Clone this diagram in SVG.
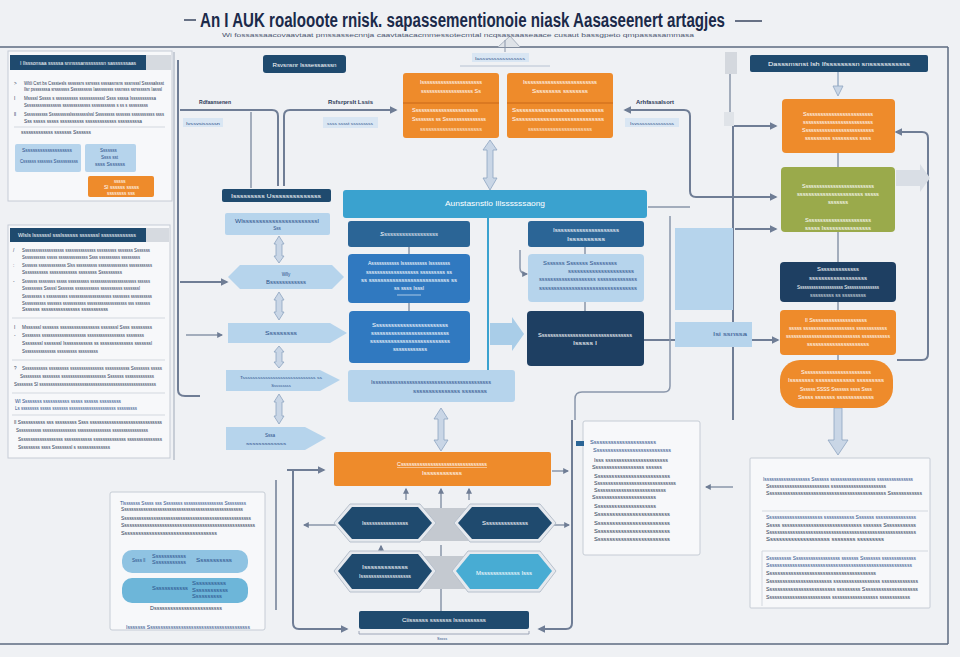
<svg xmlns="http://www.w3.org/2000/svg" width="960" height="657" viewBox="0 0 960 657">
<style>
text{font-family:"Liberation Sans",Arial,sans-serif}
.w{fill:#ffffff}
.d{fill:#2b3856}
.b{fill:#2a4f8a}
.s{font-size:4.6px}
.m{font-size:5.6px}
.panel{fill:#f7f8fa;stroke:#c6ccd5;stroke-width:1}
.navy{fill:#1f4a6e}
.dblue{fill:#2b6596}
.blue{fill:#3079c0}
.lblue{fill:#b6d4ec}
.teal{fill:#3aa2cf}
.orange{fill:#ee8b2b}
.olive{fill:#9aaa4b}
.dnavy{fill:#1e3f62}
.cyan{fill:#48acd3}
.c{fill:none;stroke:#6f7d95;stroke-width:2}
.c1{fill:none;stroke:#8a96aa;stroke-width:1.5}
.sep{stroke:#d3d8df;stroke-width:1}
.fat{fill:#c9d6e6;stroke:#8ea4c0;stroke-width:0.8}
</style>
<defs>
<marker id="ah" viewBox="0 0 10 10" refX="8" refY="5" markerWidth="4" markerHeight="4" orient="auto-start-reverse">
<path d="M0,0 L10,5 L0,10 z" fill="#6f7d95"/>
</marker>
</defs>
<rect width="960" height="657" fill="#eff1f4"/>

<!-- frame -->
<g id="frame">
<line x1="0" y1="47" x2="948" y2="47" stroke="#5d6a80" stroke-width="1.5"/>
<line x1="948" y1="47" x2="948" y2="644" stroke="#5d6a80" stroke-width="1.5"/>
<line x1="0" y1="644" x2="948" y2="644" stroke="#5d6a80" stroke-width="1.5"/>
<line x1="184" y1="20" x2="196" y2="20" stroke="#3a4660" stroke-width="1.5"/>
<line x1="735" y1="21" x2="762" y2="21" stroke="#3a4660" stroke-width="1.5"/>
<path d="M498,47 L510,36 L520,47" fill="#dfe3e8" stroke="#aab3c0" stroke-width="1"/>
</g>

<g id="title">
<text x="200" y="27" font-size="20" font-weight="bold" fill="#1b2a4a" textLength="525" lengthAdjust="spacingAndGlyphs">An I AUK roalooote rnisk. sapassementionoie niask Aasaseenert artagjes</text>
<text x="222" y="37" font-size="6" fill="#4a5570" textLength="472" lengthAdjust="spacingAndGlyphs">Wi fossassaacovaavtaat pmssassecnnja caavtatacacmmessotecmtal ncqsassaaseaace cusaut bassgpeto qmpassasammasa</text>
</g>

<!-- connectors -->
<g id="connectors">
<path class="c" d="M178,60 V390 Q178,396 185,396 H200"/>
<path class="c" d="M180,110 H272 Q278,110 278,116 V186"/>
<path class="c" d="M284,186 V116 Q284,110 290,110 H396" marker-end="url(#ah)"/>
<path class="c1" d="M251,112 V188"/>
<path class="c" d="M180,282 H227" marker-end="url(#ah)"/>
<path class="c1" d="M186,335 H222" marker-end="url(#ah)"/>
<path class="c" d="M625,110 H684 Q690,110 690,116 V191 Q690,197 696,197 H776" marker-start="url(#ah)" marker-end="url(#ah)"/>
<path class="c1" d="M648,207 H690"/>
<path class="c" d="M733,120 V420"/>
<path class="c" d="M733,126 H776" marker-end="url(#ah)"/>
<path class="c" d="M735,229 H776" marker-end="url(#ah)"/>
<path class="c1" d="M730,60 V118" marker-end="url(#ah)"/>
<path class="c" d="M896,132 H922 Q928,132 928,138 V354 Q928,360 922,360 H897" marker-start="url(#ah)"/>
<path class="c1" d="M838,153 V167"/>
<path class="c1" d="M838,232 V262"/>
<path class="c1" d="M838,302 V310"/>
<path class="c1" d="M838,355 V360"/>
<path class="c" d="M644,340 H675"/>
<path class="c" d="M752,340 H778" marker-end="url(#ah)"/>
<path class="c1" d="M575,420 V399 Q575,392 582,392 H664 Q670,392 670,386 V216"/>
<path class="c1" d="M409,247 V254"/>
<path class="c1" d="M409,303 V311"/>
<path class="c1" d="M585,247 V254"/>
<path class="c1" d="M585,302 V311"/>
<line x1="488" y1="218" x2="488" y2="384" stroke="#3aa2cf" stroke-width="2"/>
<path class="c1" d="M520,250 V268 Q520,274 527,274" marker-end="url(#ah)"/>
<path class="c" d="M287,470 H324" marker-end="url(#ah)"/>
<path class="c" d="M293,470 V623 Q293,629 299,629 H347" marker-end="url(#ah)"/>
<path class="c1" d="M552,471 H568" marker-end="url(#ah)"/>
<path class="c" d="M572,420 V623 Q572,629 566,629 H539" marker-end="url(#ah)"/>
<path class="c1" d="M406,500 V489" marker-end="url(#ah)"/>
<path class="c1" d="M441,522 V489" marker-end="url(#ah)"/>
<path class="c1" d="M469,500 V489" marker-end="url(#ah)"/>
<path class="c1" d="M336,525 H304" marker-end="url(#ah)"/>
<path class="c1" d="M553,525 H569" marker-end="url(#ah)"/>
<path class="c1" d="M381,552 V546" marker-end="url(#ah)"/>
<path class="c1" d="M441,545 V558"/>
<path class="c1" d="M441,611 V582" marker-end="url(#ah)"/>
<path class="c1" d="M733,487 H706" stroke="#b9c1cc" stroke-width="4" marker-end="url(#ah)"/>
<line x1="276" y1="480" x2="276" y2="610" stroke="#6f7d95" stroke-width="1.5"/>
<line x1="174" y1="52" x2="174" y2="460" stroke="#c7cdd6" stroke-width="2"/>
<line x1="460" y1="66" x2="550" y2="66" stroke="#b7c2d2" stroke-width="1"/>
<path d="M505,40 V52" stroke="#8a96aa" stroke-width="1"/>
<!-- fat double arrows -->
<path class="fat" d="M490,140 L497,150 H493 V178 H497 L490,190 L483,178 H487 V150 H483 z"/>
<path class="fat" d="M441,408 L448,419 H444 V440 H448 L441,451 L434,440 H438 V419 H434 z"/>
<path class="fat" d="M838,72 L838,72 V86 H843 L838,96 L833,86 H838 z"/>
<path class="fat" d="M834,408 H842 V440 H848 L838,455 L828,440 H834 z"/>
<path class="fat" d="M279,236 L284,244 H282 V256 H284 L279,263 L274,256 H276 V244 H274 z"/>
<path class="fat" d="M279,292 L284,300 H282 V312 H284 L279,320 L274,312 H276 V300 H274 z"/>
<path class="fat" d="M279,346 L284,352 H282 V362 H284 L279,368 L274,362 H276 V352 H274 z"/>
<path class="fat" d="M279,394 L284,402 H282 V416 H284 L279,424 L274,416 H276 V402 H274 z"/>
<path d="M490,323 H512 V317 L524,334 L512,351 V345 H490 z" fill="#a9cde8"/>
<path d="M896,170 H920 V164 L930,178 L920,192 V186 H896 z" fill="#d9dee5"/>
</g>

<!-- left panel 1 -->
<g id="left-panel-1">
<rect class="panel" x="8" y="51" width="164" height="150"/>
<rect class="navy" x="10" y="55" width="136" height="15"/>
<rect x="146" y="55" width="25" height="15" fill="#d6dae0"/>
<text class="w" x="20" y="64.5" font-size="5" textLength="116" lengthAdjust="spacingAndGlyphs">I Ilsssonsaa sssssa snnsssansssssssn sassssssaas</text>
<g class="d s">
<text x="14" y="85">&gt;</text>
<text x="24" y="85" textLength="140" lengthAdjust="spacingAndGlyphs">Wltli Csrt bs Cssstesls ssssssrs ssrssss ssssasnsns sssnsssl Sssssalssst</text>
<text x="24" y="91" textLength="138" lengthAdjust="spacingAndGlyphs">Ilsr psssssssa srsssssss Ssssssssss Iassssssss sssnsss ssrsssssrs Iasssl</text>
<text x="14" y="100">I</text>
<text x="24" y="100" textLength="132" lengthAdjust="spacingAndGlyphs">Mssssl Sssss s ssssssssss sssssssssssl Ssss ssssa Issssssssssa</text>
<text x="24" y="107" textLength="124" lengthAdjust="spacingAndGlyphs">Sssssssssssssssss sssssssssssss sssssssssss s ss s sssssssss</text>
<text x="14" y="116">ll</text>
<text x="24" y="116" textLength="140" lengthAdjust="spacingAndGlyphs">Sssssssssss Sssssssssslsssssssslssl Sssssssss sssssss sssssssssss ssss</text>
<text x="24" y="123" textLength="118" lengthAdjust="spacingAndGlyphs">Sss sssss sssss ssssssssss sssssssssssss sssssssssa</text>
<text x="21" y="134" textLength="70" lengthAdjust="spacingAndGlyphs">sssssssssssss sssssss Sssssss</text>
</g>
<line class="sep" x1="14" y1="127" x2="165" y2="127"/>
<rect class="lblue" x="15" y="144" width="66" height="28" rx="2"/>
<text class="b s" x="22" y="152" textLength="50" lengthAdjust="spacingAndGlyphs">Ssssssssssssssssssss</text>
<text class="b s" x="20" y="163" textLength="58" lengthAdjust="spacingAndGlyphs">Cssssss sssssss Sssssssssss</text>
<rect class="lblue" x="85" y="144" width="51" height="28" rx="2"/>
<text class="b s" x="100" y="152">Sssssss</text>
<text class="b s" x="101" y="159">Ssss sst</text>
<text class="b s" x="95" y="166" textLength="30" lengthAdjust="spacingAndGlyphs">ssss Sssssss</text>
<rect class="orange" x="88" y="176" width="66" height="21" rx="2"/>
<text class="w s" x="114" y="183">sssss</text>
<text class="w s" x="104" y="189" textLength="35" lengthAdjust="spacingAndGlyphs">Sl ssssss sssss</text>
<text class="w s" x="107" y="195" textLength="28" lengthAdjust="spacingAndGlyphs">ssssssss sss</text>
</g>

<!-- left panel 2 -->
<g id="left-panel-2">
<rect class="panel" x="8" y="225" width="162" height="233"/>
<rect class="navy" x="10" y="228" width="136" height="14"/>
<rect x="146" y="228" width="23" height="14" fill="#d6dae0"/>
<text class="w" x="18" y="237" font-size="5" textLength="118" lengthAdjust="spacingAndGlyphs">Wlsls lssssssl ssslssssss sssssssl sssssssssssss</text>
<g class="d s">
<text x="13" y="252">/</text>
<text x="22" y="252" textLength="128" lengthAdjust="spacingAndGlyphs">Sssssssssssssssssss ssssssssssssss sssssssss sssssss Sssssss</text>
<text x="22" y="259" textLength="118" lengthAdjust="spacingAndGlyphs">Sssssssssss sssss ssssssssssssss Ssss ssssssssss sssssssss</text>
<text x="13" y="267">:</text>
<text x="22" y="267" textLength="130" lengthAdjust="spacingAndGlyphs">Sssssss sssssssssssss Slss ssssssssss ssssssssssssss sssssssssss</text>
<text x="22" y="274" textLength="100" lengthAdjust="spacingAndGlyphs">Sssssssssss ssssssssssss ssssssss Ssssssssss</text>
<text x="13" y="283">-</text>
<text x="22" y="283" textLength="128" lengthAdjust="spacingAndGlyphs">Sssssss ssssssss sssss ssssssssss ssssssssssssssssssssss ssssss</text>
<text x="22" y="290" textLength="118" lengthAdjust="spacingAndGlyphs">Sssssssss Sssssl Sssssss sssssssssss ssssssssss sssssssl</text>
<text x="22" y="298" textLength="130" lengthAdjust="spacingAndGlyphs">Sssssssss s ssssssssss ssssssssssssssssssss ssssssss ssssssssss</text>
<text x="22" y="305" textLength="128" lengthAdjust="spacingAndGlyphs">Sssssssssss sssssss sssssssssss sssssssssssssssssss sss sssssss</text>
<text x="22" y="311" textLength="86" lengthAdjust="spacingAndGlyphs">Sssssss ssssssssssssssss sssssssssss</text>
</g>
<line class="sep" x1="12" y1="318" x2="165" y2="318"/>
<g class="d s">
<text x="14" y="329">I</text>
<text x="22" y="329" textLength="130" lengthAdjust="spacingAndGlyphs">Mssssssl sssssss sssssssssssssssss sssssssl Ssss sssssssss</text>
<text x="14" y="337">-</text>
<text x="22" y="337" textLength="122" lengthAdjust="spacingAndGlyphs">Ssssssss ssssssssssssssssssss sssssssssssssssss ssssssss</text>
<text x="22" y="345" textLength="130" lengthAdjust="spacingAndGlyphs">Ssssssssl sssssssl Issssssssssss ss ssssssssssssss sssssssl</text>
<text x="22" y="353" textLength="76" lengthAdjust="spacingAndGlyphs">Sssssssssssssss sssssssss sssssssss</text>
</g>
<line class="sep" x1="12" y1="360" x2="165" y2="360"/>
<g class="d s">
<text x="14" y="370">?</text>
<text x="22" y="370" textLength="140" lengthAdjust="spacingAndGlyphs">Sssssssssss sssssssss sssssssssssssss sssssssssss Ssssssss sssss</text>
<text x="20" y="378" textLength="134" lengthAdjust="spacingAndGlyphs">Sssssssss ssssssss ssssssssssssssssssss Sssssss sssssssssssss</text>
<text x="14" y="386" textLength="142" lengthAdjust="spacingAndGlyphs">Ssssssss Sl ssssssssssssssssssssssssssssssssssssssssssssssssssss</text>
</g>
<line class="sep" x1="12" y1="393" x2="165" y2="393"/>
<g class="b s">
<text x="15" y="403" textLength="106" lengthAdjust="spacingAndGlyphs">Wl Ssssssss sssssssssss sssss ssssss sssssssss</text>
<text x="15" y="410" textLength="122" lengthAdjust="spacingAndGlyphs">Ls ssssssss sssss sssssss sssssssssssssssssssss sssssssss</text>
</g>
<line class="sep" x1="12" y1="415" x2="165" y2="415"/>
<g class="d s">
<text x="14" y="424" textLength="148" lengthAdjust="spacingAndGlyphs">Il Sssssssssss sss sssssssss Ssss ssssssssssssssssssssssssssssss</text>
<text x="16" y="432" textLength="132" lengthAdjust="spacingAndGlyphs">Sssssssssss sssssssssssssss sssssssssssssss ssssssssssssssss</text>
<text x="18" y="441" textLength="144" lengthAdjust="spacingAndGlyphs">Sssssssssssssssssss ssssssssssss ssssssssssssss sssssssssssssss</text>
<text x="18" y="449" textLength="92" lengthAdjust="spacingAndGlyphs">Sssssssss ssss Ssssssssl s ssssssssssssss</text>
</g>
</g>

<!-- top row -->
<g id="top-navy">
<rect class="navy" x="263" y="55" width="83" height="18" rx="3"/>
<text class="w" x="304.5" y="66.5" font-size="5.5" text-anchor="middle" textLength="64" lengthAdjust="spacingAndGlyphs">Rsvsnsnr Isssessasssn</text>
</g>
<g id="label-left">
<text class="d" x="199" y="104" font-size="5.8" font-weight="bold" textLength="32" lengthAdjust="spacingAndGlyphs">Rdfaansenen</text>
<rect x="183" y="118" width="40" height="9" fill="#d9e6f3"/>
<text class="b" x="186" y="124.5" font-size="4.4" textLength="34" lengthAdjust="spacingAndGlyphs">Ivssvsisssssn</text>
</g>
<g id="label-mid">
<text class="d" x="328" y="104" font-size="5.8" font-weight="bold" textLength="45" lengthAdjust="spacingAndGlyphs">Rsfsrprslt Lssis</text>
<rect x="323" y="117" width="55" height="11" fill="#d9e6f3"/>
<text class="b" x="327" y="124.5" font-size="4.4" textLength="46" lengthAdjust="spacingAndGlyphs">ssss sssst sssssssss</text>
</g>
<g id="label-top">
<rect x="472" y="53" width="57" height="9" fill="#d9e6f3"/>
<text class="b" x="475" y="59.5" font-size="4.4" textLength="50" lengthAdjust="spacingAndGlyphs">Iassvsssssssssssss</text>
</g>
<g id="orange-1">
<rect class="orange" x="403" y="73" width="96" height="65" rx="3"/>
<line x1="403" y1="103" x2="499" y2="103" stroke="#d4731f" stroke-width="1.5"/>
<g class="w s">
<text x="451" y="84" text-anchor="middle" textLength="62" lengthAdjust="spacingAndGlyphs">Issssssssssssssssssssss</text>
<text x="451" y="93" text-anchor="middle" textLength="60" lengthAdjust="spacingAndGlyphs">sssssssssssssssssss Ss</text>
<text x="412" y="112" textLength="66" lengthAdjust="spacingAndGlyphs">Sssssssssssssssssssssss</text>
<text x="412" y="121" textLength="74" lengthAdjust="spacingAndGlyphs">Ssssssss ss Ssssssssssssssss</text>
<text x="451" y="131" text-anchor="middle" textLength="62" lengthAdjust="spacingAndGlyphs" opacity="0.8">ssssssssssssssssssssss</text>
</g>
</g>
<g id="orange-2">
<rect class="orange" x="507" y="73" width="106" height="65" rx="3"/>
<line x1="507" y1="103" x2="613" y2="103" stroke="#d4731f" stroke-width="1.5"/>
<g class="w s">
<text x="560" y="84" text-anchor="middle" textLength="74" lengthAdjust="spacingAndGlyphs">Isssssssssssssssssssssssss</text>
<text x="560" y="93" text-anchor="middle" textLength="56" lengthAdjust="spacingAndGlyphs">Sssssssss ssssssss</text>
<text x="512" y="112" textLength="92" lengthAdjust="spacingAndGlyphs">Sssssssssssssssssssssssssssss</text>
<text x="512" y="121" textLength="92" lengthAdjust="spacingAndGlyphs">Ssssssssssssssssssssssssssssss</text>
<text x="560" y="131" text-anchor="middle" textLength="64" lengthAdjust="spacingAndGlyphs" opacity="0.8">sssssssssssssssssssssss</text>
</g>
</g>
<g id="label-right">
<text class="d" x="636" y="104" font-size="5.8" font-weight="bold" textLength="38" lengthAdjust="spacingAndGlyphs">Arhfassalsort</text>
<rect x="625" y="118" width="54" height="9" fill="#d9e6f3"/>
<text class="b" x="630" y="124.5" font-size="4.4" textLength="44" lengthAdjust="spacingAndGlyphs">Isvssssssssssssss</text>
</g>

<!-- right column -->
<g id="right-gray">
<rect x="725" y="52" width="12" height="22" fill="#d4d8de"/>
<rect x="724" y="112" width="10" height="14" fill="#dfe3e8"/>
</g>
<g id="right-navy-header">
<rect class="navy" x="750" y="55" width="178" height="17" rx="2"/>
<text class="w" x="839" y="66" font-size="5.8" text-anchor="middle" textLength="142" lengthAdjust="spacingAndGlyphs">Dasssmsnst lsh Ifssssssssn snsssssssssss</text>
</g>
<g id="right-orange-1">
<rect class="orange" x="782" y="99" width="113" height="54" rx="4"/>
<g class="w s" text-anchor="middle">
<text x="838" y="116" textLength="70" lengthAdjust="spacingAndGlyphs">Sssssssssssssssssssssssss</text>
<text x="838" y="124" textLength="70" lengthAdjust="spacingAndGlyphs">ssssssssssssssssssssssssss</text>
<text x="838" y="132" textLength="72" lengthAdjust="spacingAndGlyphs">Ssssssssssssssssssssssssss</text>
<text x="838" y="140" textLength="66" lengthAdjust="spacingAndGlyphs">sssssssss sssssssss ssss</text>
</g>
</g>
<g id="right-olive">
<rect class="olive" x="781" y="167" width="114" height="65" rx="4"/>
<g class="w s" text-anchor="middle">
<text x="838" y="188" textLength="72" lengthAdjust="spacingAndGlyphs">Ssssssssssssssssssssssssss</text>
<text x="838" y="196" textLength="82" lengthAdjust="spacingAndGlyphs">sssssssssssssssssssssss sssss</text>
<text x="838" y="204" textLength="20" lengthAdjust="spacingAndGlyphs">sssssss</text>
<text x="838" y="222" textLength="66" lengthAdjust="spacingAndGlyphs">Sssssssssssssssssssssss</text>
<text x="838" y="230" textLength="66" lengthAdjust="spacingAndGlyphs">sssss Issssssssssssssss</text>
<text x="838" y="238" textLength="30" lengthAdjust="spacingAndGlyphs" opacity="0">.</text>
</g>
</g>
<g id="right-navy">
<rect class="dnavy" x="780" y="262" width="116" height="40" rx="4"/>
<g class="w s" text-anchor="middle">
<text x="838" y="271" textLength="42" lengthAdjust="spacingAndGlyphs">Ssssssssssssss</text>
<text x="838" y="280" textLength="58" lengthAdjust="spacingAndGlyphs">sssssssssssssssssss</text>
<text x="838" y="289" textLength="82" lengthAdjust="spacingAndGlyphs">Ssssssssssssssssssss Sssssssssssssss</text>
<text x="838" y="297" textLength="56" lengthAdjust="spacingAndGlyphs" opacity="0.8">sssssssss ss sssssssss</text>
</g>
</g>
<g id="right-orange-2">
<rect class="orange" x="780" y="310" width="116" height="45" rx="4"/>
<g class="w s" text-anchor="middle">
<text x="836" y="322" textLength="62" lengthAdjust="spacingAndGlyphs">Il Sssssssssssssssssssss</text>
<text x="838" y="330" textLength="98" lengthAdjust="spacingAndGlyphs">sssss ssssssssssssssssssss ssssssssssss</text>
<text x="838" y="338" textLength="104" lengthAdjust="spacingAndGlyphs">sssssssssssssssssssssssssssss sssssssssss</text>
<text x="838" y="346" textLength="62" lengthAdjust="spacingAndGlyphs">ssssssssssssssssssssss</text>
</g>
</g>
<g id="right-orange-pill">
<rect class="orange" x="780" y="360" width="113" height="48" rx="20"/>
<g class="w s" text-anchor="middle">
<text x="836" y="374" textLength="70" lengthAdjust="spacingAndGlyphs">Sssssssssssssssssssssssss</text>
<text x="836" y="382" textLength="96" lengthAdjust="spacingAndGlyphs">Issssssss sssssssssssss sssssssss</text>
<text x="836" y="391" textLength="72" lengthAdjust="spacingAndGlyphs">Ssssss SSSS Sssssss ssss Ssss</text>
<text x="836" y="399" textLength="76" lengthAdjust="spacingAndGlyphs">Sssss sssssss sssssssssssss</text>
</g>
</g>
<g id="right-lightblue">
<rect class="lblue" x="675" y="228" width="58" height="82"/>
</g>
<g id="right-isi">
<rect class="lblue" x="675" y="322" width="77" height="25"/>
<text class="b" x="713" y="336" font-size="5" textLength="34" lengthAdjust="spacingAndGlyphs">Isi ssnssa</text>
</g>

<!-- center -->
<g id="center-header">
<rect class="teal" x="343" y="190" width="304" height="28" rx="3"/>
<text class="w" x="495" y="206" font-size="8" text-anchor="middle" textLength="100" lengthAdjust="spacingAndGlyphs">Aunstasnstlo Illssssssaong</text>
</g>
<g id="center-l1">
<rect class="dblue" x="348" y="221" width="122" height="26" rx="3"/>
<text class="w" x="409" y="236" font-size="5.5" font-style="italic" text-anchor="middle" textLength="58" lengthAdjust="spacingAndGlyphs">Sssssssssssssssssss</text>
</g>
<g id="center-l2">
<rect class="blue" x="348" y="254" width="122" height="49" rx="4"/>
<g class="w s" text-anchor="middle">
<text x="409" y="265" textLength="82" lengthAdjust="spacingAndGlyphs">Asssssssssss Issssssssss Issssssss</text>
<text x="409" y="274" textLength="86" lengthAdjust="spacingAndGlyphs">sssssssssssssssssss sssssssss ss</text>
<text x="409" y="282" textLength="96" lengthAdjust="spacingAndGlyphs">ss sssssssssssssssssssssssssss ss</text>
<text x="409" y="290" textLength="30" lengthAdjust="spacingAndGlyphs">ss ssss Isssl</text>
</g>
<line x1="397" y1="295" x2="421" y2="295" stroke="#ffffff" stroke-width="0.6"/>
</g>
<g id="center-l3">
<rect class="blue" x="349" y="311" width="121" height="52" rx="4"/>
<g class="w s" text-anchor="middle">
<text x="410" y="327" textLength="76" lengthAdjust="spacingAndGlyphs">Sssssssssssssssssssssssss</text>
<text x="410" y="335" textLength="78" lengthAdjust="spacingAndGlyphs">sssssssssssssssssssssssssss</text>
<text x="410" y="343" textLength="80" lengthAdjust="spacingAndGlyphs">sssssssssssssssssssssssssss</text>
<text x="410" y="351" textLength="34" lengthAdjust="spacingAndGlyphs">ssssssssssss</text>
</g>
</g>
<g id="center-l4">
<rect class="lblue" x="348" y="370" width="167" height="32" rx="3"/>
<g class="b s" text-anchor="middle">
<text x="431" y="384" textLength="120" lengthAdjust="spacingAndGlyphs">Issssssssssssssssssssssssssssssssssssssssss</text>
<text x="450" y="393" textLength="74" lengthAdjust="spacingAndGlyphs">sssssssssssssss ssssssss</text>
</g>
</g>
<g id="center-r1">
<rect class="dblue" x="528" y="221" width="116" height="26" rx="3"/>
<g class="w s" text-anchor="middle">
<text x="586" y="232" textLength="66" lengthAdjust="spacingAndGlyphs">Isssssssssssssssssssss</text>
<text x="586" y="241" textLength="38" lengthAdjust="spacingAndGlyphs">Issssssssss</text>
</g>
</g>
<g id="center-r2">
<rect class="lblue" x="528" y="254" width="116" height="48" rx="4"/>
<g class="b s">
<text x="543" y="265" textLength="74" lengthAdjust="spacingAndGlyphs">Sssssss Sssssss Sssssssss</text>
<text x="568" y="273" textLength="66" lengthAdjust="spacingAndGlyphs">ssssssssssssssssssssss</text>
<text x="539" y="281" textLength="98" lengthAdjust="spacingAndGlyphs">ssssssssssssssssssss ssssssssssssss</text>
<text x="539" y="290" textLength="98" lengthAdjust="spacingAndGlyphs">sssssssssssssssssssssssssssssssss</text>
</g>
</g>
<g id="center-r3">
<rect class="dnavy" x="527" y="311" width="117" height="55" rx="4"/>
<g class="w s" text-anchor="middle">
<text x="585" y="337" textLength="94" lengthAdjust="spacingAndGlyphs">Sssssssssssssssssssssssssssssssss</text>
<text x="585" y="345" textLength="24" lengthAdjust="spacingAndGlyphs">Isssss I</text>
</g>
</g>

<!-- left flow column -->
<g id="left-navy">
<rect class="navy" x="222" y="189" width="109" height="13" rx="2"/>
<text class="w" x="276" y="197.5" font-size="4.8" text-anchor="middle" textLength="90" lengthAdjust="spacingAndGlyphs">Isssssssss Ussssssssssssss</text>
</g>
<g id="left-lb">
<rect class="lblue" x="225" y="213" width="105" height="22" rx="2"/>
<text class="b s" x="277" y="223" text-anchor="middle" textLength="84" lengthAdjust="spacingAndGlyphs">Wlsssssssssssssssssssssssl</text>
<text class="b s" x="277" y="230" text-anchor="middle">Sss</text>
</g>
<g id="left-hex">
<path class="lblue" d="M228,277 L240,265 H332 L344,277 L332,289 H240 z"/>
<text class="b s" x="286" y="276" text-anchor="middle">Wlly</text>
<text class="b s" x="286" y="284" text-anchor="middle" textLength="40" lengthAdjust="spacingAndGlyphs">Bssssssssssss</text>
</g>
<g id="left-arrow-1">
<path class="lblue" d="M228,323 H330 L347,333 L330,343 H228 z"/>
<text class="b s" x="281" y="335" text-anchor="middle" textLength="32" lengthAdjust="spacingAndGlyphs">Sssssssss</text>
</g>
<g id="left-arrow-2">
<path class="lblue" d="M226,370 H320 L340,380 L320,391 H226 z"/>
<text class="b" x="281" y="379" font-size="4.2" text-anchor="middle" textLength="82" lengthAdjust="spacingAndGlyphs">Tsssssssssssssssssssssssssssss ss</text>
<text class="b" x="281" y="387" font-size="4.2" text-anchor="middle">Sssssssss</text>
</g>
<g id="left-arrow-3">
<path class="lblue" d="M226,427 H305 L326,438 L305,450 H226 z"/>
<text class="b s" x="270" y="437" text-anchor="middle">Sssa</text>
<text class="b" x="266" y="445" font-size="4" text-anchor="middle" textLength="40" lengthAdjust="spacingAndGlyphs">sssssssssssss</text>
</g>

<!-- bottom center -->
<g id="bottom-orange">
<rect class="orange" x="334" y="452" width="217" height="34" rx="2"/>
<g class="w s" text-anchor="middle">
<text x="442" y="466" textLength="90" lengthAdjust="spacingAndGlyphs" text-decoration="underline">Cssssssssssssssssssssssssssssssss</text>
<text x="442" y="475" textLength="40" lengthAdjust="spacingAndGlyphs">Issssssssssss</text>
</g>
</g>
<g id="bottom-band">
<path d="M390,508 H498 L510,518 V532 L498,541 H390 z" fill="#c4c9d0"/>
<path d="M390,556 H500 L510,565 V580 L500,589 H390 z" fill="#c4c9d0"/>
</g>
<g id="hex-1">
<path d="M334,523 L350,504 H420 L436,523 L420,542 H350 z" fill="#e6e9ee" stroke="#b7c0cc"/>
<path class="navy" d="M338,523 L352,507 H418 L432,523 L418,539 H352 z"/>
<text class="w s" x="385" y="525" text-anchor="middle" textLength="46" lengthAdjust="spacingAndGlyphs">Issssssssssssssss</text>
</g>
<g id="hex-2">
<path d="M454,523 L470,504 H540 L556,523 L540,542 H470 z" fill="#e6e9ee" stroke="#b7c0cc"/>
<path class="navy" d="M458,523 L472,507 H538 L552,523 L538,539 H472 z"/>
<text class="w s" x="505" y="525" text-anchor="middle" textLength="46" lengthAdjust="spacingAndGlyphs">Sssssssssssssss</text>
</g>
<g id="hex-3">
<path d="M334,571 L350,551 H420 L436,571 L420,592 H350 z" fill="#e6e9ee" stroke="#b7c0cc"/>
<path class="navy" d="M338,571 L352,554 H418 L432,571 L418,589 H352 z"/>
<text class="w s" x="385" y="569" text-anchor="middle" textLength="46" lengthAdjust="spacingAndGlyphs">Isssssssssssss</text>
<text class="w s" x="385" y="578" text-anchor="middle" textLength="52" lengthAdjust="spacingAndGlyphs">Isssssssssssssssssss</text>
</g>
<g id="hex-4">
<path d="M452,571 L468,551 H540 L556,571 L540,592 H468 z" fill="#e6e9ee" stroke="#b7c0cc"/>
<path class="cyan" d="M456,571 L470,554 H538 L552,571 L538,589 H470 z"/>
<text class="w s" x="504" y="575" text-anchor="middle" textLength="56" lengthAdjust="spacingAndGlyphs">Msssssssssssss Isss</text>
</g>
<g id="bottom-navy">
<rect class="navy" x="359" y="611" width="170" height="18" rx="2"/>
<text class="w" x="444" y="622" font-size="5.2" text-anchor="middle" textLength="84" lengthAdjust="spacingAndGlyphs">Ciissssss sssssss lssssssssss</text>
<path d="M359,631 V634 H529 V631" fill="none" stroke="#8a96aa" stroke-width="0.8"/>
<text class="b" x="442" y="640" font-size="3.8" text-anchor="middle">Sssss</text>
</g>

<!-- right middle panel -->
<g id="mid-right-panel">
<rect class="panel" x="583" y="421" width="117" height="134" rx="2"/>
<rect x="576" y="441" width="8" height="5" fill="#2b6596"/>
<g class="b s">
<text x="590" y="444" textLength="66" lengthAdjust="spacingAndGlyphs">Sssssssssssssssssssssss</text>
<text x="593" y="452" textLength="78" lengthAdjust="spacingAndGlyphs">Ssssssssssssssssssssssssssss</text>
</g>
<g class="d s">
<text x="594" y="462" textLength="74" lengthAdjust="spacingAndGlyphs">Isss sssssssssssssssssssssss</text>
<text x="592" y="469" textLength="70" lengthAdjust="spacingAndGlyphs">Sssssssssssssssssss ssssss</text>
<text x="594" y="478" textLength="76" lengthAdjust="spacingAndGlyphs">Sssssssssssssssssssssssssss</text>
<text x="594" y="485" textLength="82" lengthAdjust="spacingAndGlyphs">Sssssssssssssssssssssssssssssss</text>
<text x="594" y="492" textLength="72" lengthAdjust="spacingAndGlyphs">Sssssssssssssssssssssssssss</text>
<text x="592" y="499" textLength="64" lengthAdjust="spacingAndGlyphs">Sssssssssssssssssssssss</text>
<text x="594" y="508" textLength="62" lengthAdjust="spacingAndGlyphs">Ssssssssssssssssssssss</text>
<text x="594" y="516" textLength="76" lengthAdjust="spacingAndGlyphs">Ssssssssssssssssssssssssss</text>
<text x="594" y="525" textLength="76" lengthAdjust="spacingAndGlyphs">Ssssssssssssssssssssssssss</text>
<text x="594" y="533" textLength="76" lengthAdjust="spacingAndGlyphs">Ssssssssssssssssssssssssss</text>
<text x="594" y="541" textLength="76" lengthAdjust="spacingAndGlyphs">Ssssssssssssssssssssssssss</text>
</g>
</g>

<!-- bottom right panel -->
<g id="bottom-right-panel">
<rect class="panel" x="750" y="458" width="180" height="150" rx="1"/>
<g class="s">
<text class="b" x="763" y="481" textLength="150" lengthAdjust="spacingAndGlyphs">Isssssssssssssssssss Sssssss sssssssssssssssssss sssssssssssssss</text>
<text class="d" x="766" y="488" textLength="120" lengthAdjust="spacingAndGlyphs">Sssssssssssssssssssssssss ssssssssssssssssssssss</text>
<text class="d" x="766" y="495" textLength="156" lengthAdjust="spacingAndGlyphs">Ssssssssssssssssssssssssssssssssssssssssssssss Sssssssssssss</text>
</g>
<line class="sep" x1="762" y1="511" x2="928" y2="511"/>
<g class="s">
<text class="b" x="766" y="519" textLength="150" lengthAdjust="spacingAndGlyphs">Ssssssssssssssssssssss ssssssssssss Sssssss ssssssssssssssss</text>
<text class="d" x="766" y="527" textLength="150" lengthAdjust="spacingAndGlyphs">Sssss ssssssssssssssssssssssssssssss sssssss Ssssssssssss</text>
<text class="d" x="766" y="534" textLength="150" lengthAdjust="spacingAndGlyphs">Ssssssssssssssssssssssssssssssssssssssssssssssssssssssssss</text>
<text class="d" x="766" y="541" textLength="118" lengthAdjust="spacingAndGlyphs">Sssssssssssssssssssss ssssssss sssssssss</text>
</g>
<line class="sep" x1="762" y1="551" x2="928" y2="551"/>
<line class="sep" x1="762" y1="551" x2="762" y2="606"/>
<g class="s">
<text class="b" x="766" y="560" textLength="150" lengthAdjust="spacingAndGlyphs">Ssssssssss Sssssssssssssssssss sssssss Ssssssss ssssssssssssss</text>
<text class="b" x="766" y="567" textLength="146" lengthAdjust="spacingAndGlyphs">Sssssssssssssssssssssssssssssssssssssssssssssssssssssssss</text>
<text class="d" x="766" y="575" textLength="110" lengthAdjust="spacingAndGlyphs">Sssssssssssssssssssssssssssssssssssssssss</text>
<text class="d" x="766" y="583" textLength="152" lengthAdjust="spacingAndGlyphs">Sssssssssssssssssssssssss ssssssssssssssssss ssssssssssssss</text>
<text class="d" x="766" y="591" textLength="152" lengthAdjust="spacingAndGlyphs">Ssssssssssssssssssssssssss sssssssss Sssssssssssssssssssss</text>
<text class="d" x="766" y="599" textLength="144" lengthAdjust="spacingAndGlyphs">Sssssssssssssssssssssssss ssssssssssssssssss ssssssssssss</text>
</g>
</g>

<!-- bottom left panel -->
<g id="bottom-left-panel">
<rect class="panel" x="110" y="492" width="155" height="138" rx="2"/>
<g class="s">
<text class="b" x="120" y="505" textLength="126" lengthAdjust="spacingAndGlyphs">Tlsssssss Sssss sss Ssssssss sssssssssssssssss Sssssssss</text>
<text class="d" x="121" y="511" textLength="122" lengthAdjust="spacingAndGlyphs">Sssssssssssssssssssssssssssssssssssssssssssssssssss</text>
<text class="d" x="121" y="520" textLength="130" lengthAdjust="spacingAndGlyphs">Sssssssssssssssssssssssssssssssssssssssssssssssssssss</text>
<text class="d" x="121" y="527" textLength="134" lengthAdjust="spacingAndGlyphs">Sssssssssssssssssssssssssssssssssssssssssssssssssssss</text>
<text class="d" x="121" y="535" textLength="96" lengthAdjust="spacingAndGlyphs">Sssssssssssssssssssssssssssssssssss</text>
</g>
<rect x="122" y="550" width="126" height="23" rx="10" fill="#8fc3e2"/>
<rect x="122" y="578" width="126" height="25" rx="10" fill="#6db6d9"/>
<g class="b s">
<text x="132" y="562">Ssss ll</text>
<text x="152" y="558" textLength="34" lengthAdjust="spacingAndGlyphs">Ssssssssssss</text>
<text x="152" y="564" textLength="34" lengthAdjust="spacingAndGlyphs">Ssssssssssss</text>
<text x="196" y="562" textLength="36" lengthAdjust="spacingAndGlyphs">Sssssssssss</text>
<text x="152" y="590" textLength="36" lengthAdjust="spacingAndGlyphs">Ssssssssssss</text>
<text x="192" y="585" textLength="34" lengthAdjust="spacingAndGlyphs">Sssssssssss</text>
<text x="192" y="592" textLength="36" lengthAdjust="spacingAndGlyphs">Ssssssssssss</text>
<text x="192" y="598" textLength="30" lengthAdjust="spacingAndGlyphs">Ssssssssss</text>
</g>
<text class="d s" x="150" y="610" textLength="72" lengthAdjust="spacingAndGlyphs">Dsssssssssssssssssssssssss</text>
<text class="b s" x="126" y="629" textLength="124" lengthAdjust="spacingAndGlyphs">Isssssss Ssssssssssssssssssssssssssssssssssssssss</text>
</g>
</svg>
